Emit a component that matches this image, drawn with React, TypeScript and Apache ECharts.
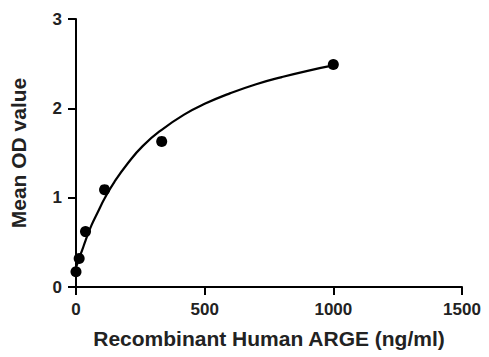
import React, { useEffect, useRef } from "react";
import * as echarts from "echarts";

const pointX = [0, 12.3, 37, 111, 333, 1000];
const pointY = [0.17, 0.32, 0.62, 1.09, 1.63, 2.49];

const curveX = [0, 5, 12, 25, 37, 60, 85, 111, 150, 200, 260, 333, 420, 500, 600, 700, 800, 900, 1000];
const curveY = [0.22, 0.26, 0.32, 0.42, 0.52, 0.69, 0.84, 0.99, 1.18, 1.38, 1.58, 1.76, 1.93, 2.05, 2.17, 2.27, 2.35, 2.42, 2.48];

const xTicks = [0, 500, 1000, 1500];
const yTicks = [0, 1, 2, 3];

const FONT = "'Liberation Sans', Arial, sans-serif";

export default function App() {
  const ref = useRef<HTMLDivElement>(null);
  useEffect(() => {
    if (!ref.current) return;
    const chart = echarts.init(ref.current, null, { renderer: "svg" });
    const axisCommon = {
      axisLine: { show: true, lineStyle: { color: "#000", width: 2 } },
      axisTick: { show: true, length: 8, inside: false, lineStyle: { color: "#000", width: 2 } },
      splitLine: { show: false },
      nameLocation: "middle" as const,
      nameTextStyle: { color: "#222", fontSize: 21, fontWeight: "bold" as const, fontFamily: FONT },
    };
    chart.setOption({
      animation: false,
      backgroundColor: "#fff",
      grid: { left: 74, right: 27, top: 19, bottom: 70, containLabel: false },
      xAxis: {
        ...axisCommon,
        type: "value",
        min: xTicks[0],
        max: xTicks[xTicks.length - 1],
        interval: 500,
        name: "Recombinant Human ARGE (ng/ml)",
        nameGap: 41,
        axisLabel: {
          color: "#222", fontSize: 17, fontWeight: "bold", fontFamily: FONT, margin: 14,
          formatter: (v: number) => String(v),
        },
      },
      yAxis: {
        ...axisCommon,
        type: "value",
        min: yTicks[0],
        max: yTicks[yTicks.length - 1],
        interval: 1,
        name: "Mean OD value",
        nameGap: 47,
        axisLabel: {
          color: "#222", fontSize: 17, fontWeight: "bold", fontFamily: FONT, margin: 14,
          formatter: (v: number) => String(v),
        },
      },
      series: [
        {
          type: "line",
          data: curveX.map((x, i) => [x, curveY[i]]),
          smooth: true,
          showSymbol: false,
          symbol: "none",
          lineStyle: { color: "#000", width: 2.2, opacity: 1 },
          z: 2,
        },
        {
          type: "scatter",
          data: pointX.map((x, i) => [x, pointY[i]]),
          symbol: "circle",
          symbolSize: 11,
          itemStyle: { color: "#000", opacity: 1 },
          z: 3,
        },
      ],
    });
    return () => chart.dispose();
  }, []);
  return (
    <div
      ref={ref}
      style={{ position: "fixed", left: 0, top: 0, width: 489, height: 357, background: "#fff" }}
    />
  );
}
